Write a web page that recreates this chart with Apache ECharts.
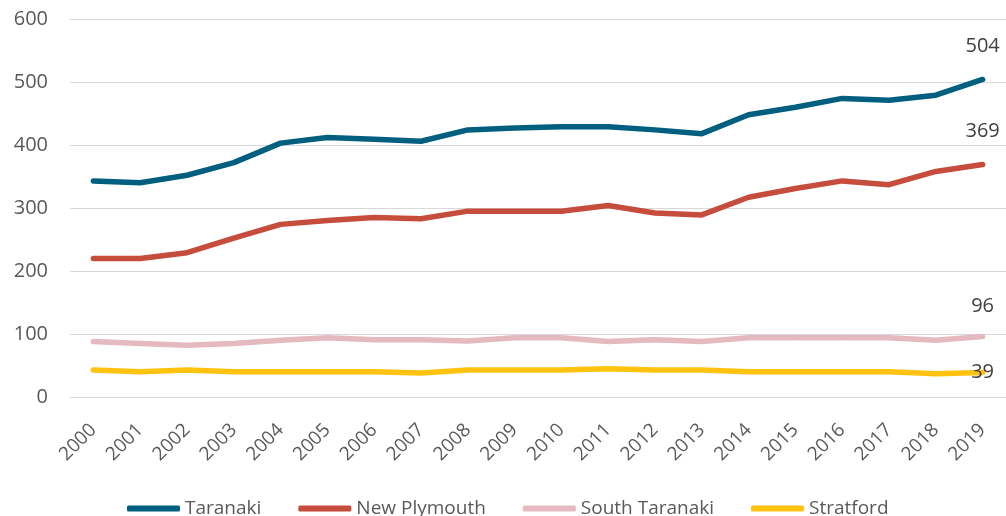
<!DOCTYPE html>
<html>
<head>
<meta charset="utf-8">
<script src="https://cdn.jsdelivr.net/npm/echarts@6/dist/echarts.min.js"></script>
<style>
  html, body { margin: 0; padding: 0; background: #fff; }
  #chart { width: 1006px; height: 516px; }
</style>
</head>
<body>
<div id="chart"></div>
<script>
const years = ['2000','2001','2002','2003','2004','2005','2006','2007','2008','2009',
               '2010','2011','2012','2013','2014','2015','2016','2017','2018','2019'];
const taranaki     = [343, 340, 352, 372, 403, 412, 409, 406, 424, 427, 429, 429, 424, 418, 448, 460, 474, 471, 479, 504];
const newPlymouth  = [220, 220, 229, 252, 274, 280, 285, 283, 295, 295, 295, 304, 292, 289, 317, 331, 343, 337, 358, 369];
const southTaranaki = [88, 85, 82, 85, 90, 94, 91, 91, 89, 94, 94, 88, 91, 88, 94, 94, 94, 94, 90, 96];
const stratford    = [43, 40, 43, 40, 40, 40, 40, 38, 43, 43, 43, 45, 43, 43, 40, 40, 40, 40, 37, 39];

const font = 'Open Sans';
let chart = echarts.init(document.getElementById('chart'));

// only the last point of each line carries a label
function lastLabel(dist, extra) {
    return Object.assign({
        show: true,
        position: 'top',
        distance: dist,
        color: '#404040',
        fontFamily: font,
        fontSize: 20,
        formatter: function (p) {
            return p.dataIndex === years.length - 1 ? String(p.value) : '';
        }
    }, extra || {});
}

function line(name, data, color, label) {
    return {
        name: name,
        type: 'line',
        data: data,
        symbol: 'circle',
        symbolSize: 1,
        showSymbol: true,
        showAllSymbol: true,
        smooth: false,
        lineStyle: { color: color, width: 5.5, cap: 'round', join: 'round' },
        itemStyle: { color: color },
        label: label,
        labelLayout: { hideOverlap: false },
        emphasis: { disabled: true }
    };
}

let option = {
    animation: false,
    backgroundColor: '#fff',
    grid: { left: 70, right: 0, top: 19, bottom: 119, containLabel: false, outerBoundsMode: 'none' },
    legend: {
        left: 122,
        top: 494,
        icon: 'roundRect',
        itemWidth: 53,
        itemHeight: 6,
        itemGap: 37,
        textStyle: { color: '#595959', fontFamily: font, fontSize: 19, padding: [9, 0, 0, 0] },
        data: ['Taranaki', 'New Plymouth', 'South Taranaki', 'Stratford']
    },
    xAxis: {
        type: 'category',
        data: years,
        boundaryGap: true,
        axisLine: { show: true, lineStyle: { color: '#d9d9d9', width: 1 } },
        axisTick: { show: false },
        axisLabel: { rotate: 45, margin: 30, color: '#595959', fontFamily: font, fontSize: 19, interval: 0 }
    },
    yAxis: {
        type: 'value',
        min: 0,
        max: 600,
        interval: 100,
        axisLine: { show: false },
        axisTick: { show: false },
        splitLine: { lineStyle: { color: '#d9d9d9', width: 1 } },
        axisLabel: { margin: 22, color: '#595959', fontFamily: font, fontSize: 20 }
    },
    series: [
        line('Taranaki', taranaki, '#005f7f', lastLabel(23)),
        line('New Plymouth', newPlymouth, '#c64c3c', lastLabel(23)),
        line('South Taranaki', southTaranaki, '#e4b9c0', lastLabel(20)),
        line('Stratford', stratford, '#ffc20e', lastLabel(0, { position: 'inside', offset: [5, -3] }))
    ]
};

chart.setOption(option);
</script>
</body>
</html>
